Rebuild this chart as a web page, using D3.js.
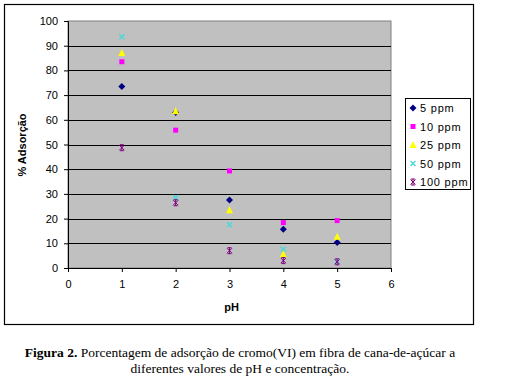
<!DOCTYPE html>
<html>
<head>
<meta charset="utf-8">
<script src="https://cdn.jsdelivr.net/npm/d3@7"></script>
<style>
body { margin: 0; background: #fff; }
svg { display: block; }
</style>
</head>
<body>
<div id="chart"></div>
<script>
var phValues = [1, 2, 3, 4, 5];
var seriesNames = ["5 ppm", "10 ppm", "25 ppm", "50 ppm", "100 ppm"];
var ads5 = [73.5, 63, 27.5, 15.7, 10.3];
var ads10 = [83.5, 55.8, 39.3, 18.4, 19.2];
var ads25 = [87, 63.5, 23.4, 5.6, 12.7];
var ads50 = [93.6, 28.5, 17.5, 7.6, 2.6];
var ads100 = [48.7, 26.4, 7, 3, 2.5];
var xTicks = [0, 1, 2, 3, 4, 5, 6];
var yTicks = [0, 10, 20, 30, 40, 50, 60, 70, 80, 90, 100];

var allSeries = [ads5, ads10, ads25, ads50, ads100];
var colors = ["#000080", "#ff00ff", "#ffff00", "#4fd8d8", "#800080"];

var svg = d3.select("#chart").append("svg").attr("width", 512).attr("height", 384);

// outer frame
svg.append("rect").attr("x", 4.5).attr("y", 4.5).attr("width", 469).attr("height", 320)
	.attr("fill", "white").attr("stroke", "black").attr("stroke-width", 1.2);

var pLeft = 68, pRight = 391, pTop = 21, pBottom = 268;
var x = d3.scaleLinear().domain([0, 6]).range([pLeft, pRight]);
var y = d3.scaleLinear().domain([0, 100]).range([pBottom, pTop]);

svg.append("rect").attr("x", pLeft).attr("y", pTop).attr("width", pRight - pLeft).attr("height", pBottom - pTop)
	.attr("fill", "#c0c0c0").attr("stroke", "#808080").attr("stroke-width", 1);

// gridlines
svg.selectAll("line.grid").data(yTicks.slice(1, -1)).enter().append("line")
	.attr("class", "grid")
	.attr("x1", pLeft).attr("x2", pRight)
	.attr("y1", function (d) { return Math.round(y(d)) + 0.5; })
	.attr("y2", function (d) { return Math.round(y(d)) + 0.5; })
	.attr("stroke", "black").attr("stroke-width", 1);

// axes
var yAxis = d3.axisLeft(y).tickValues(yTicks).tickFormat(d3.format("d")).tickSize(4).tickPadding(6);
var xAxis = d3.axisBottom(x).tickValues(xTicks).tickFormat(d3.format("d")).tickSize(4).tickPadding(8);

var gy = svg.append("g").attr("transform", "translate(" + pLeft + ",0)").call(yAxis);
var gx = svg.append("g").attr("transform", "translate(0," + pBottom + ")").call(xAxis);
[gx, gy].forEach(function (g) {
	g.select(".domain").attr("stroke", "black");
	g.selectAll(".tick line").attr("stroke", "black");
	g.selectAll("text").attr("font-family", "Arial, 'Liberation Sans', sans-serif")
		.attr("font-size", 11).attr("fill", "black");
});

// axis titles
svg.append("text").attr("x", (pLeft + pRight) / 2 + 2).attr("y", 311)
	.attr("text-anchor", "middle").attr("font-family", "Arial, sans-serif")
	.attr("font-size", 11).attr("font-weight", "bold").text("pH");
svg.append("text").attr("transform", "translate(26,145) rotate(-90)")
	.attr("text-anchor", "middle").attr("font-family", "Arial, sans-serif")
	.attr("font-size", 11).attr("font-weight", "bold").text("% Adsorção");

// markers
function drawMarker (g, i, cx, cy) {
	var c = colors[i];
	if (i == 0) {
		g.append("path").attr("d", "M" + cx + "," + (cy - 3.5) + "L" + (cx + 3.5) + "," + cy + "L" + cx + "," + (cy + 3.5) + "L" + (cx - 3.5) + "," + cy + "Z").attr("fill", c);
	} else if (i == 1) {
		g.append("rect").attr("x", cx - 2.5).attr("y", cy - 2.5).attr("width", 5).attr("height", 5).attr("fill", c);
	} else if (i == 2) {
		g.append("path").attr("d", "M" + cx + "," + (cy - 4) + "L" + (cx + 3.5) + "," + (cy + 3) + "L" + (cx - 3.5) + "," + (cy + 3) + "Z").attr("fill", c);
	} else if (i == 3) {
		g.append("path").attr("d", "M" + (cx - 2.5) + "," + (cy - 2.5) + "L" + (cx + 2.5) + "," + (cy + 2.5) + "M" + (cx + 2.5) + "," + (cy - 2.5) + "L" + (cx - 2.5) + "," + (cy + 2.5))
			.attr("stroke", c).attr("stroke-width", 1.5);
	} else {
		g.append("path").attr("d", "M" + (cx - 2.5) + "," + (cy - 2.5) + "L" + (cx + 2.5) + "," + (cy + 2.5) + "M" + (cx + 2.5) + "," + (cy - 2.5) + "L" + (cx - 2.5) + "," + (cy + 2.5) + "M" + cx + "," + (cy - 3) + "L" + cx + "," + (cy + 3) + "M" + (cx - 2) + "," + (cy - 3) + "L" + (cx + 2) + "," + (cy - 3) + "M" + (cx - 2) + "," + (cy + 3) + "L" + (cx + 2) + "," + (cy + 3))
			.attr("stroke", c).attr("stroke-width", 1);
	}
}

var pts = svg.append("g");
allSeries.forEach(function (s, i) {
	s.forEach(function (v, j) {
		drawMarker(pts, i, x(phValues[j]), y(v));
	});
});

// legend
var lg = svg.append("g");
lg.append("rect").attr("x", 405.5).attr("y", 98.5).attr("width", 65).attr("height", 91)
	.attr("fill", "white").attr("stroke", "black").attr("stroke-width", 1);
seriesNames.forEach(function (n, i) {
	var ly = 108 + i * 18.5;
	drawMarker(lg, i, 413, ly);
	lg.append("text").attr("x", 420).attr("y", ly + 4).attr("font-family", "Arial, sans-serif")
		.attr("font-size", 11).attr("letter-spacing", 0.8).text(n);
});

// caption
var capFont = "'Liberation Serif', 'Times New Roman', serif";
var cap = svg.append("text").attr("x", 240).attr("y", 357).attr("text-anchor", "middle")
	.attr("font-family", capFont).attr("font-size", 13.5);
cap.append("tspan").attr("font-weight", "bold").text("Figura 2.");
cap.append("tspan").text(" Porcentagem de adsorção de cromo(VI) em fibra de cana-de-açúcar a");
svg.append("text").attr("x", 240).attr("y", 373).attr("text-anchor", "middle")
	.attr("font-family", capFont).attr("font-size", 13.5)
	.text("diferentes valores de pH e concentração.");
</script>
</body>
</html>
